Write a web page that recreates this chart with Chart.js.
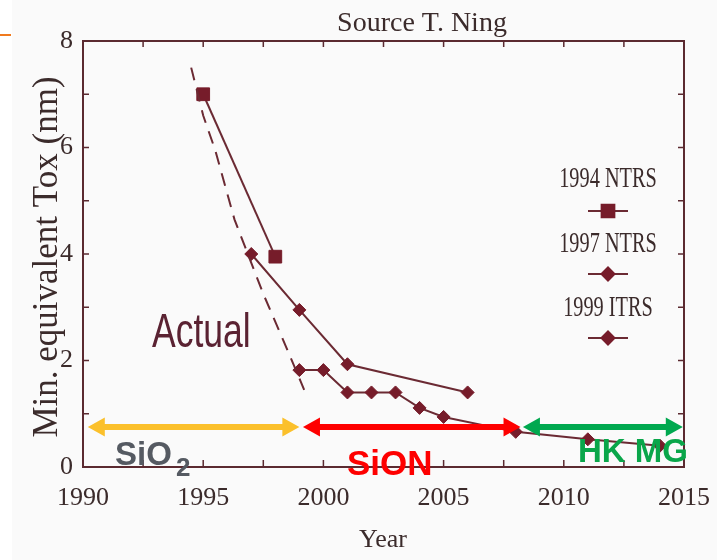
<!DOCTYPE html>
<html>
<head>
<meta charset="utf-8">
<script src="https://cdn.jsdelivr.net/npm/chart.js@4.4.1/dist/chart.umd.min.js"></script>
<style>
  html, body { margin: 0; padding: 0; background: #fff; }
</style>
</head>
<body>
<canvas id="myChart" width="717" height="560"></canvas>
<script>
// values (Tox in nm vs year)
const years94 = [1995, 1998];
const tox94 = [7.0, 3.95];

const years97 = [1997, 1999, 2001, 2006];
const tox97 = [4.0, 2.95, 1.93, 1.4];

const years99 = [1999, 2000, 2001, 2002, 2003, 2004, 2005, 2008, 2011, 2014];
const tox99 = [1.82, 1.82, 1.4, 1.4, 1.4, 1.11, 0.94, 0.66, 0.52, 0.4];

// dashed "Actual" trend
const actualYears = [1994.5, 1995.0, 1995.5, 1996.3, 1997.5, 1998.5, 1999.2];
const actualTox = [7.5, 6.6, 5.95, 4.65, 3.25, 2.2, 1.45];

const xTicks = [1990, 1995, 2000, 2005, 2010, 2015];
const yTicks = [0, 2, 4, 6, 8];

const legendNames = ['1994 NTRS', '1997 NTRS', '1999 ITRS'];

// gate stack eras shown with arrows
const phaseNames = ['SiO₂', 'SiON', 'HK MG'];
const phaseFrom = [1990.2, 1999.15, 2008.3];
const phaseTo = [1999.0, 2008.2, 2014.95];
const phaseLevel = 0.75;

const ink = '#3b2b2b';
const axisInk = '#5b2a30';
const lineInk = '#6b2a33';
const markInk = '#761c2a';
const phaseColors = ['#fbc02b', '#fe0000', '#00a84f'];
const phaseTextColors = ['#555a62', '#fe0000', '#0aa64a'];

function toXY(xs, ys) {
  return xs.map((x, i) => ({x: x, y: ys[i]}));
}

function squeezeText(ctx, text, x, y, font, sx, align) {
  ctx.save();
  ctx.font = font;
  ctx.translate(x, y);
  ctx.scale(sx, 1);
  ctx.textAlign = align || 'left';
  ctx.textBaseline = 'alphabetic';
  ctx.fillText(text, 0, 0);
  ctx.restore();
}

function arrow(ctx, x1, x2, y, color) {
  const hl = 17, hw = 9.5, sw = 3;
  ctx.save();
  ctx.fillStyle = color;
  ctx.beginPath();
  ctx.moveTo(x1, y);
  ctx.lineTo(x1 + hl, y - hw);
  ctx.lineTo(x1 + hl, y - sw);
  ctx.lineTo(x2 - hl, y - sw);
  ctx.lineTo(x2 - hl, y - hw);
  ctx.lineTo(x2, y);
  ctx.lineTo(x2 - hl, y + hw);
  ctx.lineTo(x2 - hl, y + sw);
  ctx.lineTo(x1 + hl, y + sw);
  ctx.lineTo(x1 + hl, y + hw);
  ctx.closePath();
  ctx.fill();
  ctx.restore();
}

const decor = {
  id: 'decor',
  beforeDraw(chart) {
    const ctx = chart.ctx;
    ctx.save();
    ctx.fillStyle = '#ffffff';
    ctx.fillRect(0, 0, chart.width, chart.height);
    ctx.fillStyle = '#fafafa';
    ctx.fillRect(12, 0, chart.width - 12, chart.height);
    // little orange slide mark
    ctx.strokeStyle = '#f07a1e';
    ctx.lineWidth = 2;
    ctx.beginPath();
    ctx.moveTo(0, 35);
    ctx.lineTo(11, 35);
    ctx.stroke();
    ctx.restore();
  },
  afterDraw(chart) {
    const ctx = chart.ctx;
    const xs = chart.scales.x, ys = chart.scales.y;
    const a = chart.chartArea;

    // inward tick marks on all four sides
    ctx.save();
    ctx.strokeStyle = axisInk;
    ctx.lineWidth = 1.5;
    ctx.beginPath();
    for (let v = 1992.5; v < 2015; v += 2.5) {
      const px = xs.getPixelForValue(v);
      ctx.moveTo(px, a.bottom); ctx.lineTo(px, a.bottom - 7);
      ctx.moveTo(px, a.top); ctx.lineTo(px, a.top + 6);
    }
    for (let v = 1; v < 8; v += 1) {
      const py = ys.getPixelForValue(v);
      ctx.moveTo(a.left, py); ctx.lineTo(a.left + 6, py);
      ctx.moveTo(a.right, py); ctx.lineTo(a.right - 6, py);
    }
    ctx.stroke();
    ctx.restore();

    ctx.save();
    ctx.fillStyle = ink;
    // header
    squeezeText(ctx, 'Source T. Ning', 422, 31, '28px "Liberation Serif"', 1, 'center');
    // axis titles
    ctx.save();
    ctx.translate(57, 257);
    ctx.rotate(-Math.PI / 2);
    ctx.font = '35px "Liberation Serif"';
    ctx.textAlign = 'center';
    ctx.fillText('Min. equivalent Tox (nm)', 0, 0);
    ctx.restore();
    squeezeText(ctx, 'Year', 383, 547, '26px "Liberation Serif"', 1, 'center');

    // "Actual" label
    ctx.fillStyle = '#5a2232';
    squeezeText(ctx, 'Actual', 152, 347, '48px "Liberation Sans"', 0.74, 'left');

    // legend: name above a short line with the marker
    const metas = [1, 2, 3].map(i => chart.data.datasets[i]);
    const textY = [187, 252, 316];
    const markY = [211, 274, 338];
    const cx = 608;
    metas.forEach((ds, i) => {
      ctx.fillStyle = ink;
      squeezeText(ctx, legendNames[i], cx, textY[i], '29px "Liberation Serif"', 0.7, 'center');
      ctx.strokeStyle = lineInk;
      ctx.lineWidth = 2;
      ctx.beginPath();
      ctx.moveTo(cx - 20, markY[i]);
      ctx.lineTo(cx + 20, markY[i]);
      ctx.stroke();
      ctx.fillStyle = markInk;
      ctx.strokeStyle = markInk;
      Chart.helpers.drawPoint(ctx, {pointStyle: ds.pointStyle, radius: ds.pointRadius, rotation: 0, borderWidth: 1}, cx, markY[i]);
    });

    // era arrows and names
    const ay = ys.getPixelForValue(phaseLevel);
    phaseNames.forEach((n, i) => {
      arrow(ctx, xs.getPixelForValue(phaseFrom[i]), xs.getPixelForValue(phaseTo[i]), ay, phaseColors[i]);
    });
    ctx.fillStyle = phaseTextColors[0];
    ctx.font = 'bold 33px "Liberation Sans"';
    ctx.textAlign = 'left';
    ctx.fillText(phaseNames[0].replace('₂', ''), 115, 465);
    ctx.font = 'bold 26px "Liberation Sans"';
    ctx.fillText('2', 176, 476);
    ctx.fillStyle = phaseTextColors[1];
    ctx.font = 'bold 35px "Liberation Sans"';
    ctx.fillText(phaseNames[1], 347, 475);
    ctx.fillStyle = phaseTextColors[2];
    ctx.font = 'bold 33px "Liberation Sans"';
    ctx.fillText(phaseNames[2], 578, 462);
    ctx.restore();
  }
};

const ctx = document.getElementById('myChart').getContext('2d');
const myChart = new Chart(ctx, {
  type: 'line',
  data: {
    datasets: [
      {
        label: 'Actual',
        data: toXY(actualYears, actualTox),
        borderColor: lineInk,
        borderWidth: 2,
        borderDash: [13, 9],
        pointRadius: 0,
        fill: false
      },
      {
        label: legendNames[0],
        data: toXY(years94, tox94),
        borderColor: lineInk,
        borderWidth: 2,
        pointStyle: 'rect',
        pointRadius: 9,
        pointBackgroundColor: markInk,
        pointBorderColor: markInk,
        pointBorderWidth: 1
      },
      {
        label: legendNames[1],
        data: toXY(years97, tox97),
        borderColor: lineInk,
        borderWidth: 2,
        pointStyle: 'rectRot',
        pointRadius: 6.5,
        pointBackgroundColor: markInk,
        pointBorderColor: markInk,
        pointBorderWidth: 1
      },
      {
        label: legendNames[2],
        data: toXY(years99, tox99),
        borderColor: lineInk,
        borderWidth: 2,
        pointStyle: 'rectRot',
        pointRadius: 6.5,
        pointBackgroundColor: markInk,
        pointBorderColor: markInk,
        pointBorderWidth: 1
      }
    ]
  },
  options: {
    responsive: false,
    devicePixelRatio: 1,
    animation: false,
    layout: { padding: { top: 41, right: 33, left: 0, bottom: 0 } },
    plugins: {
      legend: { display: false },
      tooltip: { enabled: false },
      title: { display: false }
    },
    scales: {
      x: {
        type: 'linear',
        position: 'bottom',
        min: 1990,
        max: 2015,
        afterBuildTicks: s => { s.ticks = xTicks.map(v => ({value: v})); },
        afterFit: s => { s.height = 93; s.paddingLeft = 0; s.paddingRight = 0; },
        ticks: {
          callback: v => String(v),
          font: { family: 'Liberation Serif', size: 26 },
          color: ink,
          padding: 16,
          maxRotation: 0,
          autoSkip: false
        },
        grid: { drawOnChartArea: false, drawTicks: false },
        border: { color: axisInk, width: 2 }
      },
      y: {
        type: 'linear',
        position: 'left',
        min: 0,
        max: 8,
        afterBuildTicks: s => { s.ticks = yTicks.map(v => ({value: v})); },
        afterFit: s => { s.width = 83; },
        ticks: {
          callback: v => String(v),
          font: { family: 'Liberation Serif', size: 26 },
          color: ink,
          padding: 10
        },
        grid: { drawOnChartArea: false, drawTicks: false },
        border: { color: axisInk, width: 2 }
      },
      x2: {
        type: 'linear',
        position: 'top',
        afterFit: s => { s.height = 0; },
        ticks: { display: false },
        grid: { drawOnChartArea: false, drawTicks: false },
        border: { color: axisInk, width: 2 }
      },
      y2: {
        type: 'linear',
        position: 'right',
        afterFit: s => { s.width = 0; },
        ticks: { display: false },
        grid: { drawOnChartArea: false, drawTicks: false },
        border: { color: axisInk, width: 2 }
      }
    }
  },
  plugins: [decor]
});
</script>
</body>
</html>
